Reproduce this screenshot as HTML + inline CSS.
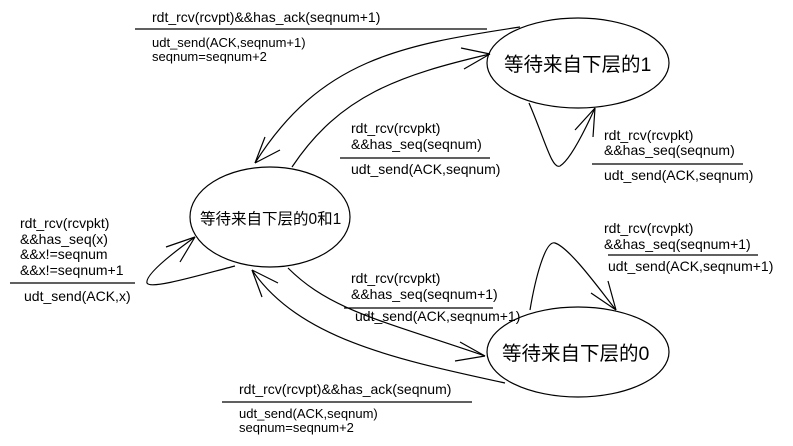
<!DOCTYPE html>
<html><head><meta charset="utf-8"><style>
html,body{margin:0;padding:0;background:#fff;}
svg{display:block;}
text{font-family:"Liberation Sans","Noto Sans CJK SC",sans-serif;font-size:14px;fill:#000;}
.s{font-size:13px;}
</style></head><body>
<svg width="793" height="446" viewBox="0 0 793 446" xmlns="http://www.w3.org/2000/svg">
<g fill="none" stroke="#000" stroke-width="1.2">
<ellipse cx="270" cy="217" rx="80" ry="50"/>
<ellipse cx="578" cy="63" rx="91" ry="45"/>
<ellipse cx="578" cy="352" rx="91" ry="45"/>
<path d="M520,27 C400,45 320,60 255,163"/>
<path d="M255,163 L265,137 M255,163 L280,150"/>
<path d="M292,167 C340,95 400,75 490,54"/>
<path d="M490,54 L461,48 M490,54 L464,69"/>
<path d="M529,103 C545,140 552,170 560,166 C570,160 585,130 595,108"/>
<path d="M595,108 L575,130 M595,108 L593,137"/>
<path d="M530,310 C535,280 545,240 555,243 C570,248 600,290 616,310"/>
<path d="M616,310 L591,293 M616,310 L608,281"/>
<path d="M288,268 C330,310 380,320 485,356"/>
<path d="M485,356 L460,342 M485,356 L455,361"/>
<path d="M505,383 C400,360 300,340 252,270"/>
<path d="M252,270 L262,297 M252,270 L278,283"/>
<path d="M235,266 C200,275 150,290 147,283 C145,275 170,255 195,237"/>
<path d="M195,237 L166,247 M195,237 L180,262"/>
<path d="M135,29 H487"/>
<path d="M340,158 H490"/>
<path d="M592,164 H743"/>
<path d="M608,255 H758"/>
<path d="M344,308 H493"/>
<path d="M222,402 H472"/>
<path d="M10,283 H135"/>
</g>
<text x="200" y="224" style="font-size:15.5px">等待来自下层的0和1</text>
<text x="504" y="71" style="font-size:19.5px">等待来自下层的1</text>
<text x="502" y="360" style="font-size:19.5px">等待来自下层的0</text>
<text x="152" y="22">rdt_rcv(rcvpt)&amp;&amp;has_ack(seqnum+1)</text>
<text x="152" y="47" class="s">udt_send(ACK,seqnum+1)</text>
<text x="152" y="61" class="s">seqnum=seqnum+2</text>
<text x="351" y="133">rdt_rcv(rcvpkt)</text>
<text x="351" y="149">&amp;&amp;has_seq(seqnum)</text>
<text x="351" y="174">udt_send(ACK,seqnum)</text>
<text x="604" y="140">rdt_rcv(rcvpkt)</text>
<text x="604" y="155">&amp;&amp;has_seq(seqnum)</text>
<text x="604" y="180">udt_send(ACK,seqnum)</text>
<text x="604" y="233">rdt_rcv(rcvpkt)</text>
<text x="604" y="249">&amp;&amp;has_seq(seqnum+1)</text>
<text x="608" y="271">udt_send(ACK,seqnum+1)</text>
<text x="351" y="283">rdt_rcv(rcvpkt)</text>
<text x="351" y="299">&amp;&amp;has_seq(seqnum+1)</text>
<text x="355" y="321">udt_send(ACK,seqnum+1)</text>
<text x="239" y="394">rdt_rcv(rcvpt)&amp;&amp;has_ack(seqnum)</text>
<text x="239" y="418" class="s">udt_send(ACK,seqnum)</text>
<text x="239" y="432" class="s">seqnum=seqnum+2</text>
<text x="20" y="228">rdt_rcv(rcvpkt)</text>
<text x="20" y="244">&amp;&amp;has_seq(x)</text>
<text x="20" y="259">&amp;&amp;x!=seqnum</text>
<text x="20" y="275">&amp;&amp;x!=seqnum+1</text>
<text x="24" y="301">udt_send(ACK,x)</text>
</svg>
</body></html>
